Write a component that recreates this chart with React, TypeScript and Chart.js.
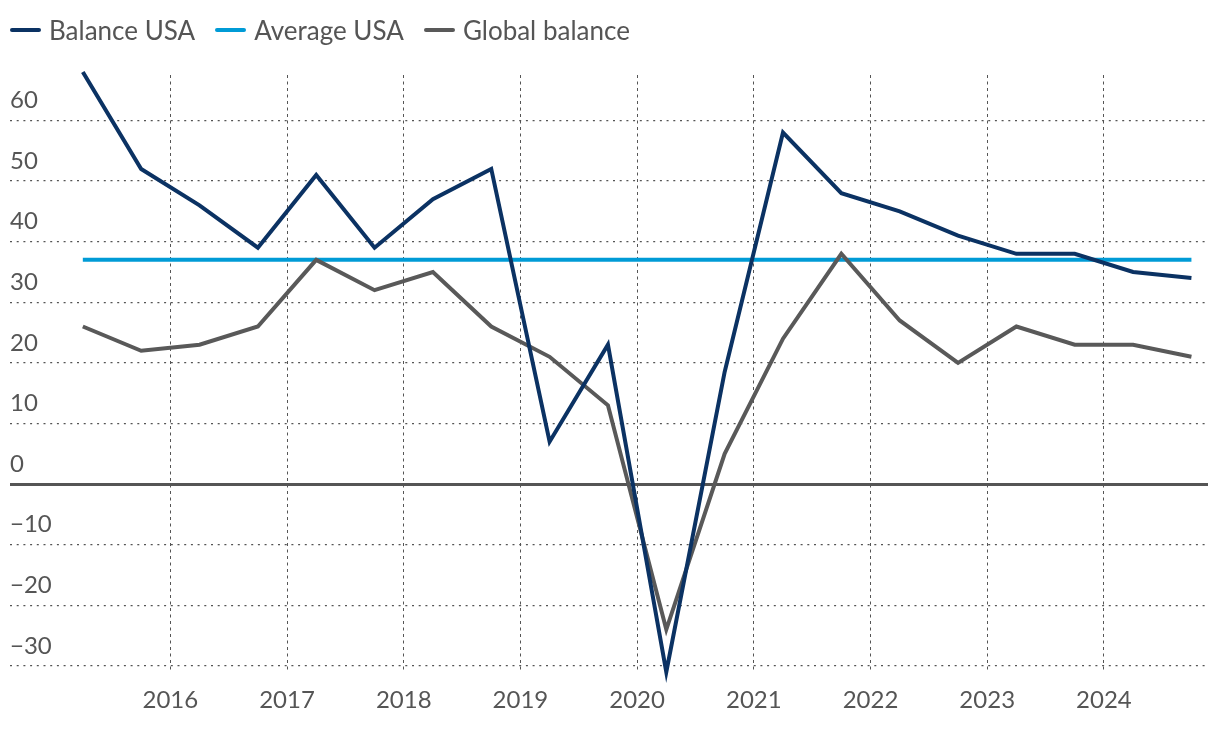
import React, { useEffect, useRef } from 'react';
import { Chart, registerables } from 'chart.js';

Chart.register(...registerables);

// Half-year periods (x positions in years)
const periods = [
  2015.25, 2015.75, 2016.25, 2016.75, 2017.25, 2017.75, 2018.25, 2018.75, 2019.25, 2019.75,
  2020.25, 2020.75, 2021.25, 2021.75, 2022.25, 2022.75, 2023.25, 2023.75, 2024.25, 2024.75,
];
const balanceUSA = [68, 52, 46, 39, 51, 39, 47, 52, 7, 23, -31, 18.5, 58, 48, 45, 41, 38, 38, 35, 34];
const globalBalance = [26, 22, 23, 26, 37, 32, 35, 26, 21, 13, -24, 5, 24, 38, 27, 20, 26, 23, 23, 21];
const averageUSA = 37;

const yearTicks = [2016, 2017, 2018, 2019, 2020, 2021, 2022, 2023, 2024];
const valueTicks = [-30, -20, -10, 0, 10, 20, 30, 40, 50, 60];

const seriesNames = ['Balance USA', 'Average USA', 'Global balance'];
const seriesColors = ['#0b3263', '#009bd6', '#595959'];

const TEXT = '#555555';
const FONT = 'Lato, "Open Sans", sans-serif';

export default function App() {
  const canvasRef = useRef<HTMLCanvasElement | null>(null);

  useEffect(() => {
    const canvas = canvasRef.current;
    if (!canvas) return;
    Chart.defaults.font.family = FONT;
    Chart.defaults.color = TEXT;

    const toPoints = (vals: number[]) => vals.map((v, i) => ({ x: periods[i], y: v }));

    const chart = new Chart(canvas, {
      type: 'line',
      data: {
        datasets: [
          {
            label: seriesNames[0],
            data: toPoints(balanceUSA),
            borderColor: seriesColors[0],
            backgroundColor: seriesColors[0],
            borderWidth: 4,
            pointRadius: 0,
            tension: 0,
            clip: false as any,
            order: 0,
          },
          {
            label: seriesNames[1],
            data: [
              { x: periods[0], y: averageUSA },
              { x: periods[periods.length - 1], y: averageUSA },
            ],
            borderColor: seriesColors[1],
            backgroundColor: seriesColors[1],
            borderWidth: 4,
            pointRadius: 0,
            tension: 0,
            clip: false as any,
            order: 2,
          },
          {
            label: seriesNames[2],
            data: toPoints(globalBalance),
            borderColor: seriesColors[2],
            backgroundColor: seriesColors[2],
            borderWidth: 4,
            pointRadius: 0,
            tension: 0,
            clip: false as any,
            order: 1,
          },
        ],
      },
      options: {
        animation: false,
        responsive: false,
        devicePixelRatio: 1,
        layout: { padding: { left: 2, right: 4, top: 67, bottom: 4 } },
        plugins: {
          legend: { display: false },
          tooltip: { enabled: false },
        },
        scales: {
          x: {
            type: 'linear',
            min: 2014.626,
            max: 2024.892,
            afterBuildTicks: (scale: any) => {
              scale.ticks = yearTicks.map((v) => ({ value: v }));
            },
            afterFit: (scale: any) => {
              scale.height = 44;
            },
            grid: {
              color: TEXT,
              lineWidth: 1,
              drawTicks: false,
            },
            border: { display: false, dash: [3, 3.5] },
            ticks: {
              autoSkip: false,
              maxRotation: 0,
              padding: 14,
              color: TEXT,
              font: { size: 24, family: FONT },
              callback: (v: any) => String(v),
            },
          },
          y: {
            type: 'linear',
            min: -31,
            max: 67.5,
            afterBuildTicks: (scale: any) => {
              scale.ticks = valueTicks.map((v) => ({ value: v }));
            },
            grid: {
              color: TEXT,
              lineWidth: (ctx: any) => (ctx.tick && ctx.tick.value === 0 ? 3 : 1.3),
              drawTicks: false,
            },
            border: {
              display: false,
              dash: (ctx: any) => (ctx.tick && ctx.tick.value === 0 ? [] : [2, 4.7]),
            },
            ticks: {
              autoSkip: false,
              mirror: true,
              padding: 0,
              labelOffset: -20,
              color: TEXT,
              font: { size: 24, family: FONT },
              callback: (v: any) => (v < 0 ? '\u2212' + Math.abs(v) : String(v)),
            },
          },
        },
      },
    } as any);

    return () => chart.destroy();
  }, []);

  return (
    <div style={{ position: 'relative', width: 1204, height: 712 }}>
      <canvas
        ref={canvasRef}
        width={1204}
        height={712}
        style={{ position: 'absolute', left: 0, top: 0, width: 1204, height: 712 }}
      />
      <div
        style={{
          position: 'absolute',
          left: 2,
          top: 7,
          display: 'flex',
          alignItems: 'center',
          fontFamily: FONT,
          fontSize: 26,
          color: TEXT,
          lineHeight: '30px',
          whiteSpace: 'nowrap',
        }}
      >
        {seriesNames.map((name, i) => (
          <div key={name} style={{ display: 'flex', alignItems: 'center', marginRight: 20 }}>
            <span
              style={{
                display: 'inline-block',
                width: 31,
                height: 4,
                borderRadius: 2,
                background: seriesColors[i],
                marginRight: 8,
              }}
            />
            <span>{name}</span>
          </div>
        ))}
      </div>
    </div>
  );
}
